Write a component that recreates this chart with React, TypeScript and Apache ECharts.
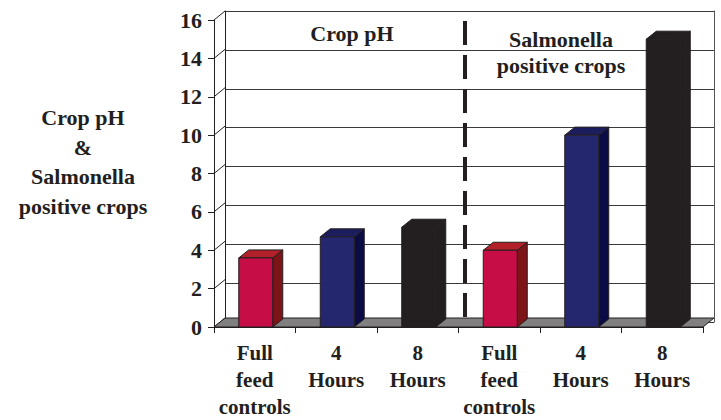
import React, { useEffect, useRef } from "react";
import * as echarts from "echarts";

const categories = [
  "Full\nfeed\ncontrols",
  "4\nHours",
  "8\nHours",
  "Full\nfeed\ncontrols",
  "4\nHours",
  "8\nHours",
];
const values = [3.6, 4.7, 5.2, 4.0, 10.0, 15.0];
const colorGroup = [0, 1, 2, 0, 1, 2];
const yTicks = [0, 2, 4, 6, 8, 10, 12, 14, 16];
const dividerAfter = [3];
const titleLeft = "Crop pH";
const titleRight = "Salmonella\npositive crops";
const yName = "Crop pH\n&\nSalmonella\npositive crops";

const palette = [
  { front: "#C70D45", side: "#7D1418", top: "#B2202A" },
  { front: "#25276E", side: "#0B0C46", top: "#1C1D5C" },
  { front: "#231F20", side: "#231F20", top: "#231F20" },
];

const FONT = "Times New Roman, Liberation Serif, serif";
const INK = "#231F20";
const WALL_DX = 11;
const WALL_DY = 9;
const BAR_DX = 10;
const BAR_DY = 8;
const BAR_W = 34;

export default function App() {
  const ref = useRef<HTMLDivElement>(null);
  useEffect(() => {
    if (!ref.current) return;
    const chart = echarts.init(ref.current, null, { renderer: "svg" });
    const labelStyle = {
      fontFamily: FONT,
      fontWeight: "bold" as const,
      fontSize: 21,
      color: INK,
    };
    const textStyle = {
      fontFamily: FONT,
      fontWeight: "bold",
      fontSize: 22,
      fill: INK,
      align: "center",
      verticalAlign: "middle",
    };
    chart.setOption({
      animation: false,
      backgroundColor: "#ffffff",
      grid: [
        { left: 214, right: 18, top: 20, bottom: 89 },
        { left: 214 + WALL_DX, right: 18 - WALL_DX, top: 20 - WALL_DY, bottom: 89 + WALL_DY },
      ],
      xAxis: [
        {
          type: "category",
          gridIndex: 0,
          data: categories,
          axisLine: { show: true, lineStyle: { color: INK, width: 1 } },
          axisTick: { show: true, length: 6, lineStyle: { color: INK } },
          axisLabel: { ...labelStyle, margin: 12, lineHeight: 27, interval: 0 },
        },
        {
          type: "category",
          gridIndex: 1,
          data: categories,
          show: false,
        },
      ],
      yAxis: [
        {
          type: "value",
          gridIndex: 0,
          min: 0,
          max: 16,
          interval: 2,
          axisLine: { show: true, lineStyle: { color: INK, width: 1 } },
          axisTick: { show: true, length: 6, lineStyle: { color: INK } },
          axisLabel: { ...labelStyle, fontSize: 22, margin: 12 },
          splitLine: { show: false },
        },
        {
          type: "value",
          gridIndex: 1,
          min: 0,
          max: 16,
          interval: 2,
          axisLine: { show: true, lineStyle: { color: INK, width: 1 } },
          axisTick: { show: false },
          axisLabel: { show: false },
          splitLine: { show: true, lineStyle: { color: "#3a3a3a", width: 1 } },
        },
        {
          type: "value",
          gridIndex: 1,
          position: "right",
          min: 0,
          max: 16,
          interval: 2,
          axisLine: { show: true, lineStyle: { color: "#555", width: 1 } },
          axisTick: { show: false },
          axisLabel: { show: false },
          splitLine: { show: false },
        },
      ],
      graphic: [
        {
          type: "text",
          x: 83,
          y: 162,
          style: { ...textStyle, text: yName, lineHeight: 29.7 },
        },
        {
          type: "text",
          x: 352,
          y: 33,
          style: { ...textStyle, text: titleLeft },
        },
        {
          type: "text",
          x: 561,
          y: 52,
          style: { ...textStyle, text: titleRight, lineHeight: 26 },
        },
      ],
      series: [
        {
          type: "custom",
          name: "leftWall",
          xAxisIndex: 0,
          yAxisIndex: 0,
          z: 3,
          data: yTicks.map((t) => [0, t]),
          renderItem: (params: any, api: any) => {
            const cs = params.coordSys;
            const y = api.coord([0, api.value(1)])[1];
            return {
              type: "line",
              shape: { x1: cs.x, y1: y, x2: cs.x + WALL_DX, y2: y - WALL_DY },
              style: { stroke: INK, lineWidth: 1 },
            };
          },
        },
        {
          type: "custom",
          name: "floor",
          xAxisIndex: 0,
          yAxisIndex: 0,
          z: 3,
          data: [[0, 0]],
          renderItem: (params: any, api: any) => {
            const cs = params.coordSys;
            const y0 = api.coord([0, 0])[1];
            return {
              type: "polygon",
              shape: {
                points: [
                  [cs.x, y0],
                  [cs.x + cs.width, y0],
                  [cs.x + cs.width + WALL_DX, y0 - WALL_DY],
                  [cs.x + WALL_DX, y0 - WALL_DY],
                ],
              },
              style: { fill: "#808080", stroke: INK, lineWidth: 1 },
            };
          },
        },
        {
          type: "custom",
          name: "divider",
          xAxisIndex: 0,
          yAxisIndex: 0,
          z: 4,
          data: dividerAfter.map((d) => [d, 16]),
          renderItem: (params: any, api: any) => {
            const cs = params.coordSys;
            const band = cs.width / categories.length;
            const x = cs.x + band * api.value(0) + WALL_DX / 2 + 1;
            const yTop = api.coord([0, 16])[1] + 1;
            const yBot = api.coord([0, 0])[1] - WALL_DY - 1;
            return {
              type: "line",
              shape: { x1: x, y1: yTop, x2: x, y2: yBot },
              style: { stroke: INK, lineWidth: 4, lineDash: [24, 10] },
            };
          },
        },
        {
          type: "custom",
          name: "bars",
          xAxisIndex: 0,
          yAxisIndex: 0,
          z: 5,
          data: values.map((v, i) => [i, v, colorGroup[i]]),
          renderItem: (params: any, api: any) => {
            const i = api.value(0);
            const v = api.value(1);
            const c = palette[api.value(2)];
            const top = api.coord([i, v]);
            const base = api.coord([i, 0]);
            const xl = top[0] - BAR_W / 2 + 1;
            const xr = xl + BAR_W;
            const yt = top[1];
            const yb = base[1];
            const st = { stroke: INK, lineWidth: 1, lineJoin: "round" };
            return {
              type: "group",
              children: [
                {
                  type: "polygon",
                  shape: {
                    points: [
                      [xr, yb],
                      [xr + BAR_DX, yb - BAR_DY],
                      [xr + BAR_DX, yt - BAR_DY],
                      [xr, yt],
                    ],
                  },
                  style: { ...st, fill: c.side },
                },
                {
                  type: "polygon",
                  shape: {
                    points: [
                      [xl, yt],
                      [xr, yt],
                      [xr + BAR_DX, yt - BAR_DY],
                      [xl + BAR_DX, yt - BAR_DY],
                    ],
                  },
                  style: { ...st, fill: c.top },
                },
                {
                  type: "rect",
                  shape: { x: xl, y: yt, width: BAR_W, height: yb - yt },
                  style: { ...st, fill: c.front },
                },
              ],
            };
          },
        },
      ],
    });
    return () => chart.dispose();
  }, []);
  return (
    <div
      ref={ref}
      style={{ position: "fixed", left: 0, top: 0, width: 721, height: 420 }}
    />
  );
}
